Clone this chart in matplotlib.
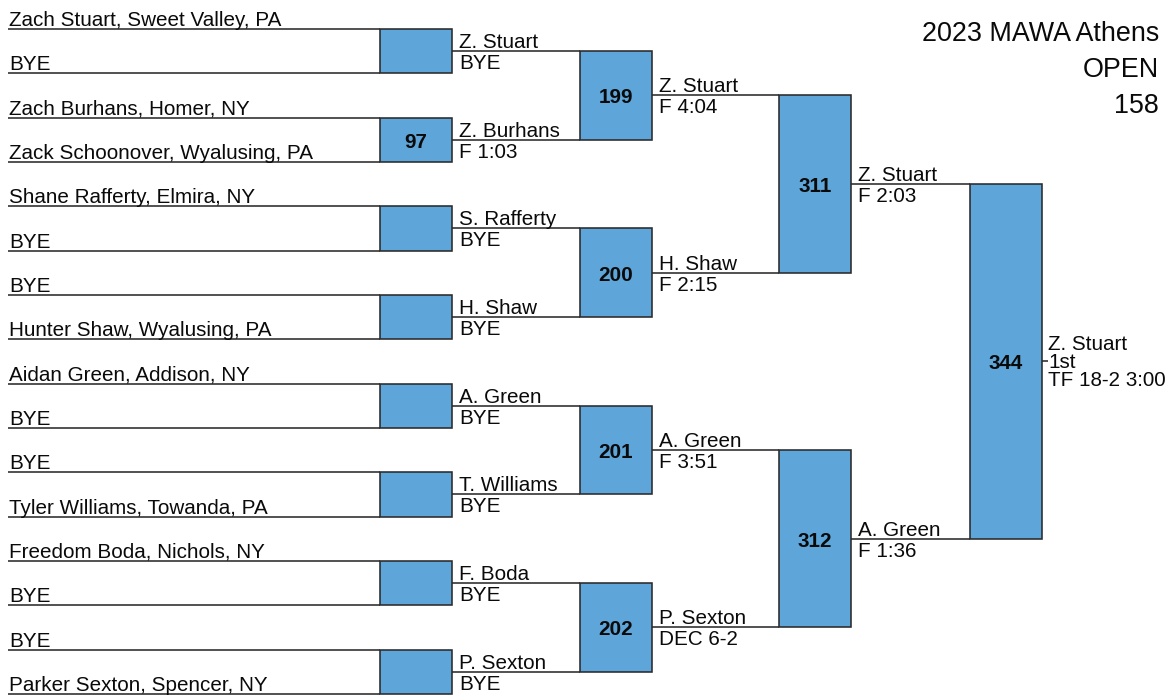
import matplotlib
matplotlib.use("Agg")
import matplotlib.pyplot as plt
from matplotlib.patches import Rectangle

# ---------------- data ----------------
title_lines = ["2023 MAWA Athens", "OPEN", "158"]

round1_entrants = [
    "Zach Stuart, Sweet Valley, PA", "BYE",
    "Zach Burhans, Homer, NY", "Zack Schoonover, Wyalusing, PA",
    "Shane Rafferty, Elmira, NY", "BYE",
    "BYE", "Hunter Shaw, Wyalusing, PA",
    "Aidan Green, Addison, NY", "BYE",
    "BYE", "Tyler Williams, Towanda, PA",
    "Freedom Boda, Nichols, NY", "BYE",
    "BYE", "Parker Sexton, Spencer, NY",
]
round1_bouts = ["", "97", "", "", "", "", "", ""]

round2_winners = ["Z. Stuart", "Z. Burhans", "S. Rafferty", "H. Shaw",
                  "A. Green", "T. Williams", "F. Boda", "P. Sexton"]
round2_results = ["BYE", "F 1:03", "BYE", "BYE", "BYE", "BYE", "BYE", "BYE"]
round2_bouts = ["199", "200", "201", "202"]

round3_winners = ["Z. Stuart", "H. Shaw", "A. Green", "P. Sexton"]
round3_results = ["F 4:04", "F 2:15", "F 3:51", "DEC 6-2"]
round3_bouts = ["311", "312"]

round4_winners = ["Z. Stuart", "A. Green"]
round4_results = ["F 2:03", "F 1:36"]
final_bout = ["344"]

champion = "Z. Stuart"
champion_place = "1st"
champion_result = "TF 18-2 3:00"

# ---------------- layout ----------------
FONT = "Liberation Sans"
FS = 14.9
LINE_C = "#2a2a2a"
BOX_FC = "#5EA5DA"
BOX_EC = "#2a2a2a"
TXT_C = "#0a0a0a"
LW = 1.15

fig = plt.figure(figsize=(11.7, 7), dpi=100)
ax = fig.add_axes([0, 0, 1, 1])
ax.set_xlim(0, 1170)
ax.set_ylim(700, 0)
ax.axis("off")

# column edges: line start, box left, box right
line_x0 = [8, 452, 652, 851]
box_x = [(380, 452), (580, 652), (779, 851), (970, 1042)]
text_x = [9, 459, 659, 858]

top_y, step = 29.0, 44.33
y1 = [top_y + step * i for i in range(len(round1_entrants))]


def hline(x0, x1, y):
    ax.plot([x0, x1], [y, y], color=LINE_C, lw=LW, solid_capstyle="butt", zorder=2)


def box(col, ya, yb, label):
    x0, x1 = box_x[col]
    ax.add_patch(Rectangle((x0, ya), x1 - x0, yb - ya, facecolor=BOX_FC,
                           edgecolor=BOX_EC, lw=LW, zorder=3))
    if label:
        ax.text((x0 + x1) / 2, (ya + yb) / 2 + 0.5, label, ha="center",
                va="center_baseline", fontsize=FS, fontweight="bold",
                family=FONT, color=TXT_C, zorder=4)


def above(x, y, s):
    ax.text(x, y - 3, s, ha="left", va="baseline", fontsize=FS, family=FONT,
            color=TXT_C, zorder=4)


def below(x, y, s):
    ax.text(x, y + 18, s, ha="left", va="baseline", fontsize=FS, family=FONT,
            color=TXT_C, zorder=4)


# round 1
for i, name in enumerate(round1_entrants):
    hline(line_x0[0], box_x[0][0], y1[i])
    above(text_x[0], y1[i], name)
for k, b in enumerate(round1_bouts):
    box(0, y1[2 * k], y1[2 * k + 1], b)

# round 2
y2 = [(y1[2 * k] + y1[2 * k + 1]) / 2 for k in range(len(round2_winners))]
for k in range(len(round2_winners)):
    hline(line_x0[1], box_x[1][0], y2[k])
    above(text_x[1], y2[k], round2_winners[k])
    below(text_x[1], y2[k], round2_results[k])
for k, b in enumerate(round2_bouts):
    box(1, y2[2 * k], y2[2 * k + 1], b)

# round 3
y3 = [(y2[2 * k] + y2[2 * k + 1]) / 2 for k in range(len(round3_winners))]
for k in range(len(round3_winners)):
    hline(line_x0[2], box_x[2][0], y3[k])
    above(text_x[2], y3[k], round3_winners[k])
    below(text_x[2], y3[k], round3_results[k])
for k, b in enumerate(round3_bouts):
    box(2, y3[2 * k], y3[2 * k + 1], b)

# round 4
y4 = [(y3[2 * k] + y3[2 * k + 1]) / 2 for k in range(len(round4_winners))]
for k in range(len(round4_winners)):
    hline(line_x0[3], box_x[3][0], y4[k])
    above(text_x[3], y4[k], round4_winners[k])
    below(text_x[3], y4[k], round4_results[k])
box(3, y4[0], y4[1], final_bout[0])

# champion
yc = (y4[0] + y4[1]) / 2
hline(box_x[3][1], box_x[3][1] + 6, yc)
for dy, s in zip([-11.5, 6.5, 24.5], [champion, champion_place, champion_result]):
    ax.text(1048, yc + dy, s, ha="left", va="baseline", fontsize=FS, family=FONT,
            color=TXT_C, zorder=4)

# title
for yb, s in zip([41, 77, 113], title_lines):
    ax.text(1159, yb, s, ha="right", va="baseline", fontsize=19.4, family=FONT,
            color=TXT_C)

fig.savefig("out.png", dpi=100, facecolor="white")
